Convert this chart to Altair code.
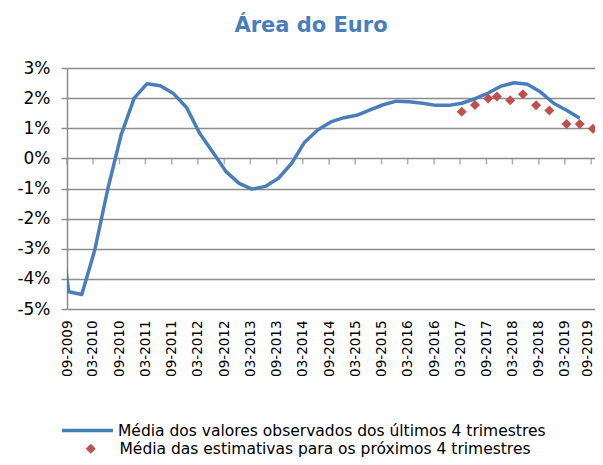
import altair as alt
import pandas as pd

title_text = "Área do Euro"

tick_labels = ["09-2009", "03-2010", "09-2010", "03-2011", "09-2011", "03-2012",
               "09-2012", "03-2013", "09-2013", "03-2014", "09-2014", "03-2015",
               "09-2015", "03-2016", "09-2016", "03-2017", "09-2017", "03-2018",
               "09-2018", "03-2019", "09-2019"]

y_ticks = [-5, -4, -3, -2, -1, 0, 1, 2, 3]

series_line = "Média dos valores observados dos últimos 4 trimestres"
series_est = "Média das estimativas para os próximos 4 trimestres"

# quarterly observations (first one lies just left of the axis and is clipped)
line_dates = ["2009-06-13", "2009-09-13", "2009-12-13", "2010-03-13", "2010-06-13",
              "2010-09-13", "2010-12-13", "2011-03-13", "2011-06-13", "2011-09-13",
              "2011-12-13", "2012-03-13", "2012-06-13", "2012-09-13", "2012-12-13",
              "2013-03-13", "2013-06-13", "2013-09-13", "2013-12-13", "2014-03-13",
              "2014-06-13", "2014-09-13", "2014-12-13", "2015-03-13", "2015-06-13",
              "2015-09-13", "2015-12-13", "2016-03-13", "2016-06-13", "2016-09-13",
              "2016-12-13", "2017-03-13", "2017-06-13", "2017-09-13", "2017-12-13",
              "2018-03-13", "2018-06-13", "2018-09-13", "2018-12-13", "2019-03-13",
              "2019-06-13"]
line_values = [-1.1, -4.43, -4.52, -3.05, -1.0,
               0.78, 2.0, 2.48, 2.41, 2.15,
               1.69, 0.83, 0.2, -0.44, -0.83,
               -1.02, -0.93, -0.66, -0.17, 0.53,
               0.94, 1.21, 1.35, 1.43, 1.61,
               1.78, 1.9, 1.88, 1.83, 1.76,
               1.76, 1.83, 1.98, 2.17, 2.4,
               2.51, 2.46, 2.2, 1.83, 1.6,
               1.33]

est_dates = ["2017-03-13", "2017-06-13", "2017-09-13", "2017-11-13", "2018-02-13",
             "2018-05-13", "2018-08-13", "2018-11-13", "2019-03-13", "2019-06-13",
             "2019-09-13"]
est_values = [1.55, 1.77, 1.99, 2.05, 1.93,
              2.13, 1.76, 1.59, 1.14, 1.14,
              0.98]

BLUE = "#4A7EBB"
RED = "#C0504D"
GRID = "#8c8c8c"
FONT = "DejaVu Sans"

line_df = pd.DataFrame({"date": line_dates, "value": line_values, "obs": series_line})
est_df = pd.DataFrame({"date": est_dates, "value": est_values, "est": series_est})
tick_df = pd.DataFrame({"date": [f"{l[3:]}-{l[:2]}-01" for l in tick_labels],
                        "value": [0] * len(tick_labels)})

tick_values = [alt.DateTime(year=int(l[3:]), month=int(l[:2]), date=1, utc=True)
               for l in tick_labels]
x_domain = [alt.DateTime(year=2009, month=9, date=1, utc=True),
            alt.DateTime(year=2019, month=9, date=27, utc=True)]

x_scale = alt.Scale(type="utc", domain=x_domain)
y_scale = alt.Scale(domain=[y_ticks[0], y_ticks[-1]], nice=False, zero=False)

x_axis = alt.Axis(values=tick_values, labelExpr="utcFormat(datum.value, '%m-%Y')",
                  labelAngle=-90, labelFontSize=13.5, labelPadding=11, labelColor="#000000",
                  labelFont=FONT, domain=False, ticks=False, grid=False, title=None,
                  labelOffset={"condition": {"test": "datum.index >= 1", "value": -3.5},
                               "value": 0},
                  labelOverlap=False, labelBound=False, labelFlush=False)
y_axis = alt.Axis(values=y_ticks, labelExpr="datum.value + '%'", grid=True,
                  gridColor=GRID, gridWidth=1.5, domainColor=GRID, domainWidth=1.5,
                  tickColor=GRID, tickWidth=1.5, tickSize=6, labelFontSize=17,
                  labelPadding=11, labelColor="#000000", labelFont=FONT, title=None)

base_x = alt.X("date:T", scale=x_scale, axis=x_axis)
base_y = alt.Y("value:Q", scale=y_scale, axis=y_axis)

ticks = alt.Chart(tick_df).mark_tick(orient="vertical", size=6, thickness=1.5,
                                     yOffset=3, color=GRID).encode(
    x=base_x,
    y=base_y,
)

line = alt.Chart(line_df).mark_line(clip=True, strokeWidth=3.5, strokeJoin="round").encode(
    x=base_x,
    y=base_y,
    stroke=alt.Stroke("obs:N", scale=alt.Scale(domain=[series_line], range=[BLUE]),
                      legend=alt.Legend(orient="none", legendX=-7, legendY=335, title=None,
                                        symbolType="stroke", symbolSize=2601,
                                        symbolStrokeWidth=3.5, labelFontSize=15.5,
                                        labelFont=FONT, labelColor="#000000",
                                        labelOffset=3, padding=0, labelLimit=600)),
)

points = alt.Chart(est_df).mark_point(filled=True, size=100, opacity=1, color=RED).encode(
    x=base_x,
    y=base_y,
    shape=alt.Shape("est:N", scale=alt.Scale(domain=[series_est], range=["diamond"]),
                    legend=alt.Legend(orient="none", legendX=16, legendY=373, title=None,
                                      symbolSize=100, symbolFillColor=RED,
                                      symbolStrokeWidth=0, labelFontSize=15.5,
                                      labelFont=FONT, labelColor="#000000",
                                      labelOffset=21, padding=0, labelLimit=600)),
)

chart = alt.layer(ticks, line, points).properties(
    width=528,
    height=241,
    padding={"left": 59, "top": 60, "right": 0, "bottom": 148},
    autosize=alt.AutoSizeParams(type="none"),
    background="white",
    title=alt.TitleParams(title_text, font=FONT, fontSize=21, fontWeight="bold",
                          color=BLUE, anchor="middle", dx=-20, offset=23),
).configure_view(stroke=None)

chart.save("out.html", embed_options={"renderer": "svg", "actions": False})
